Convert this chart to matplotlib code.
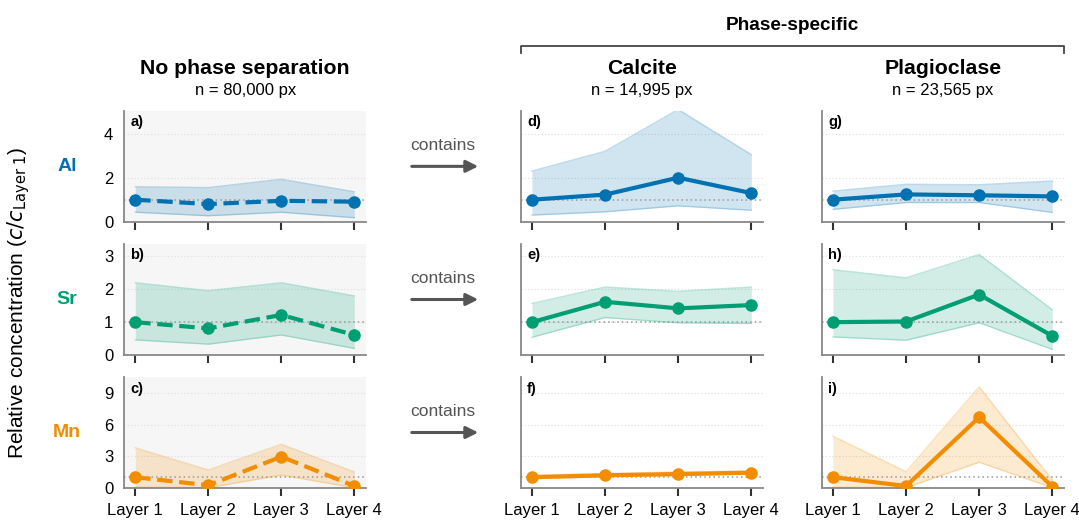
import matplotlib
matplotlib.use("Agg")
import matplotlib.pyplot as plt
from matplotlib.patches import FancyArrowPatch
from matplotlib.lines import Line2D

plt.rcParams['font.family'] = ['Liberation Sans', 'DejaVu Sans']

layers = ['Layer 1', 'Layer 2', 'Layer 3', 'Layer 4']
elements = ['Al', 'Sr', 'Mn']
colors = {'Al': '#0072B2', 'Sr': '#009E73', 'Mn': '#F28C00'}

# no phase separation (bulk)
bulk_mean = {'Al': [1.0, 0.80, 0.95, 0.91],
             'Sr': [1.0, 0.81, 1.22, 0.61],
             'Mn': [1.0, 0.23, 2.95, 0.16]}
bulk_hi = {'Al': [1.59, 1.55, 1.93, 1.36],
           'Sr': [2.20, 1.96, 2.20, 1.80],
           'Mn': [3.80, 1.69, 4.13, 1.50]}
bulk_lo = {'Al': [0.43, 0.27, 0.43, 0.18],
           'Sr': [0.46, 0.33, 0.61, 0.20],
           'Mn': [0.05, 0.00, 1.20, 0.00]}

# calcite
cal_mean = {'Al': [1.0, 1.23, 2.0, 1.30],
            'Sr': [1.0, 1.62, 1.42, 1.52],
            'Mn': [1.0, 1.18, 1.30, 1.43]}
cal_hi = {'Al': [2.30, 3.20, 5.10, 3.05],
          'Sr': [1.57, 2.07, 1.94, 2.07],
          'Mn': [1.20, 1.35, 1.50, 1.60]}
cal_lo = {'Al': [0.30, 0.45, 0.72, 0.52],
          'Sr': [0.54, 1.14, 0.98, 0.96],
          'Mn': [0.85, 1.05, 1.15, 1.30]}

# plagioclase
pla_mean = {'Al': [1.0, 1.24, 1.20, 1.15],
            'Sr': [1.0, 1.02, 1.84, 0.58],
            'Mn': [1.0, 0.16, 6.70, 0.10]}
pla_hi = {'Al': [1.39, 1.70, 1.68, 1.85],
          'Sr': [2.60, 2.35, 3.06, 1.38],
          'Mn': [4.90, 1.52, 9.60, 0.73]}
pla_lo = {'Al': [0.56, 0.87, 0.87, 0.42],
          'Sr': [0.55, 0.45, 0.98, 0.17],
          'Mn': [0.05, 0.00, 2.42, 0.00]}

ylims = {'Al': (0, 5.03), 'Sr': (0, 3.38), 'Mn': (0, 10.5)}
yticks = {'Al': [0, 2, 4], 'Sr': [0, 1, 2, 3], 'Mn': [0, 3, 6, 9]}

titles = ['No phase separation', 'Calcite', 'Plagioclase']
counts = ['n = 80,000 px', 'n = 14,995 px', 'n = 23,565 px']
panel_letters = [['a)', 'b)', 'c)'], ['d)', 'e)', 'f)'], ['g)', 'h)', 'i)']]

W, H = 1079, 521
fig = plt.figure(figsize=(W / 100, H / 100), dpi=100)


def fx(px):
    return px / W


def fy(py):
    return 1 - py / H


col_px = [(124.3, 366), (521, 763), (822, 1064)]
row_px = [(111, 221.7), (244, 355), (377.3, 487.7)]
datasets = [(bulk_mean, bulk_lo, bulk_hi), (cal_mean, cal_lo, cal_hi), (pla_mean, pla_lo, pla_hi)]
x = list(range(len(layers)))

for c, (x0, x1) in enumerate(col_px):
    mean, lo, hi = datasets[c]
    for r, el in enumerate(elements):
        y0, y1 = row_px[r]
        ax = fig.add_axes([fx(x0), fy(y1), fx(x1 - x0), (y1 - y0) / H])
        col = colors[el]
        ax.set_facecolor('#f6f6f6' if c == 0 else 'white')
        ax.fill_between(x, lo[el], hi[el], color=col, alpha=0.18, lw=0)
        ax.plot(x, hi[el], color=col, alpha=0.25, lw=1)
        ax.plot(x, lo[el], color=col, alpha=0.25, lw=1)
        ax.axhline(1, color='#999999', ls=(0, (1, 2)), lw=1.1, zorder=1)
        ax.plot(x, mean[el], color=col, lw=3, ls='--' if c == 0 else '-',
                marker='o', ms=8, zorder=3)
        ax.set_xlim(-0.15, 3.16)
        ax.set_ylim(*ylims[el])
        ax.set_yticks(yticks[el])
        for t in yticks[el][1:]:
            ax.axhline(t, color='#dddddd', ls=(0, (1, 2)), lw=0.8, zorder=0)
        ax.set_xticks(x)
        if r == 2:
            ax.set_xticklabels(layers, fontsize=12)
        else:
            ax.set_xticklabels([])
        if c != 0:
            ax.set_yticklabels([])
        ax.tick_params(axis='y', length=0, labelsize=12, pad=8)
        ax.tick_params(axis='x', length=6, width=1.5, color='#333333', pad=5)
        for s in ['top', 'right']:
            ax.spines[s].set_visible(False)
        for s in ['left', 'bottom']:
            ax.spines[s].set_color('#888888')
            ax.spines[s].set_linewidth(1.3)
        ax.text(0.025, 0.96, panel_letters[c][r], transform=ax.transAxes,
                fontsize=10.5, fontweight='bold', va='top', ha='left')

    cx = (x0 + x1) / 2
    fig.text(fx(cx), fy(68), titles[c], fontsize=15.3, fontweight='bold', ha='center', va='center')
    fig.text(fx(cx), fy(90), counts[c], fontsize=12, ha='center', va='center')

# element labels on the left
for r, el in enumerate(elements):
    yc = (row_px[r][0] + row_px[r][1]) / 2
    fig.text(fx(67), fy(yc), el, color=colors[el], fontsize=14, fontweight='bold',
             ha='center', va='center')

fig.text(fx(19), fy(303), r'Relative concentration ($c/c_{\mathrm{Layer\ 1}}$)',
         rotation=90, fontsize=15, ha='center', va='center')

# "contains" arrows
for r in range(3):
    yc = (row_px[r][0] + row_px[r][1]) / 2
    fig.text(fx(443), fy(yc - 21), 'contains', fontsize=12.5, color='#555555',
             ha='center', va='center')
    arr = FancyArrowPatch((fx(409), fy(yc)), (fx(481), fy(yc)), transform=fig.transFigure,
                          arrowstyle='-|>', mutation_scale=18, color='#555555', lw=2.2)
    fig.add_artist(arr)

# Phase-specific bracket
fig.text(fx(792), fy(25), 'Phase-specific', fontsize=13.7, fontweight='bold', ha='center', va='center')
bx = [fx(521), fx(521), fx(1064), fx(1064)]
by = [fy(53), fy(46), fy(46), fy(53)]
fig.add_artist(Line2D(bx, by, transform=fig.transFigure, color='#444444', lw=1.3))

fig.savefig('out.png', dpi=100)
